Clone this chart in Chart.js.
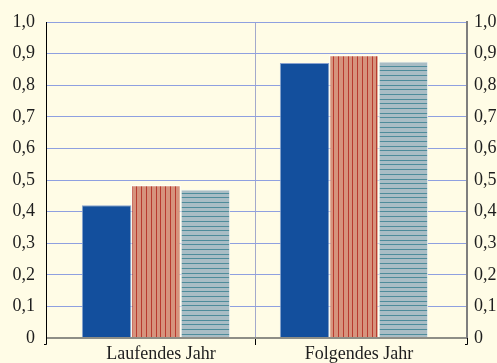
<!DOCTYPE html>
<html>
<head>
<meta charset="utf-8">
<script src="https://cdn.jsdelivr.net/npm/chart.js@4/dist/chart.umd.min.js"></script>
<style>
  html, body { margin: 0; padding: 0; background: #FFFCE6; }
  #wrap { width: 497px; height: 363px; }
</style>
</head>
<body>
<div id="wrap"><canvas id="c" width="497" height="363"></canvas></div>
<script>
// Categories and series values
const categories = ['Laufendes Jahr', 'Folgendes Jahr'];
const seriesBlue = [0.42, 0.87];
const seriesRed = [0.483, 0.895];
const seriesTeal = [0.47, 0.875];
const yTickLabels = ['0', '0,1', '0,2', '0,3', '0,4', '0,5', '0,6', '0,7', '0,8', '0,9', '1,0'];

const FONT = "'Liberation Serif', 'Times New Roman', serif";

// Vertical stripe fill (red series)
function stripePattern(ctx) {
  const c = document.createElement('canvas');
  c.width = 24; c.height = 4;
  const g = c.getContext('2d');
  g.fillStyle = '#D6937D';
  g.fillRect(0, 0, 24, 4);
  g.fillStyle = '#B83A2F';
  [2, 7, 12, 16, 21].forEach(x => g.fillRect(x, 0, 1, 4));
  return ctx.createPattern(c, 'repeat');
}

// Horizontal line fill (teal series)
function hlinePattern(ctx) {
  const c = document.createElement('canvas');
  c.width = 4; c.height = 47;
  const g = c.getContext('2d');
  g.fillStyle = '#A9BDC5';
  g.fillRect(0, 0, 4, 47);
  g.fillStyle = '#4E8C9B';
  [0, 5, 9, 14, 19, 23, 28, 33, 38, 42].forEach(y => g.fillRect(0, y, 4, 1));
  return ctx.createPattern(c, 'repeat');
}

const canvas = document.getElementById('c');
const ctx = canvas.getContext('2d');

// Paint the cream background behind everything
const background = {
  id: 'background',
  beforeDraw(chart) {
    const g = chart.ctx;
    g.save();
    g.fillStyle = '#FFFCE6';
    g.fillRect(0, 0, chart.width, chart.height);
    g.restore();
  }
};

// The category axis spans a slightly narrower band than the plot frame
const categoryBand = {
  id: 'categoryBand',
  afterLayout(chart) {
    const x = chart.scales.x;
    const area = chart.chartArea;
    x.left = area.left + 11;
    x.right = area.right - 14;
    x.width = x.right - x.left;
    x.configure();
  }
};

// Small black tick marks under the outer frame corners
const frameTicks = {
  id: 'frameTicks',
  afterDraw(chart) {
    const g = chart.ctx;
    const a = chart.chartArea;
    g.save();
    g.strokeStyle = '#000';
    g.lineWidth = 1;
    g.beginPath();
    g.moveTo(a.left + 0.5, a.bottom);
    g.lineTo(a.left + 0.5, a.bottom + 6.5);
    g.lineTo(a.left - 2, a.bottom + 6.5);
    g.moveTo(a.right + 0.5, a.bottom);
    g.lineTo(a.right + 0.5, a.bottom + 6.5);
    g.lineTo(a.right - 2, a.bottom + 6.5);
    g.stroke();
    g.restore();
  }
};

new Chart(ctx, {
  type: 'bar',
  data: {
    labels: categories,
    datasets: [
      {
        label: 'Reihe 1',
        data: seriesBlue,
        backgroundColor: '#134F9D',
        borderColor: '#8AA3CF',
        borderWidth: 1,
        yAxisID: 'y'
      },
      {
        label: 'Reihe 2',
        data: seriesRed,
        backgroundColor: stripePattern(ctx),
        borderColor: '#FFFFFF',
        borderWidth: 1,
        yAxisID: 'y'
      },
      {
        label: 'Reihe 3',
        data: seriesTeal,
        backgroundColor: hlinePattern(ctx),
        borderColor: '#F4F6F2',
        borderWidth: 1,
        yAxisID: 'y'
      }
    ]
  },
  options: {
    responsive: false,
    animation: false,
    devicePixelRatio: 1,
    layout: { padding: { top: 22, left: 0, right: 0, bottom: 0 } },
    datasets: {
      bar: { categoryPercentage: 0.749, barPercentage: 1.0 }
    },
    plugins: {
      legend: { display: false },
      tooltip: { enabled: false }
    },
    scales: {
      x: {
        type: 'category',
        offset: true,
        afterFit(scale) { scale.height = 25; },
        border: { display: false },
        grid: {
          offset: true,
          drawOnChartArea: true,
          drawTicks: true,
          tickLength: 7,
          lineWidth: 1,
          color: (c) => c.index === 1 ? '#A3A9CC' : 'rgba(0,0,0,0)',
          tickColor: (c) => c.index === 1 ? '#000000' : 'rgba(0,0,0,0)'
        },
        ticks: {
          color: '#1E1E1E',
          font: { family: FONT, size: 18 },
          padding: -2,
          labelOffset: 5,
          maxRotation: 0,
          autoSkip: false
        }
      },
      y: {
        type: 'linear',
        position: 'left',
        min: 0,
        max: 1,
        afterFit(scale) { scale.width = 46; },
        afterBuildTicks(scale) {
          scale.ticks = yTickLabels.map((_, i) => ({ value: i / 10 }));
        },
        border: { display: true, color: '#000000', width: 1 },
        grid: {
          drawTicks: false,
          color: (c) => c.index === 0 ? '#8E8E86' : '#8FA0E0',
          lineWidth: (c) => c.index === 0 ? 2 : 1
        },
        ticks: {
          color: '#1E1E1E',
          font: { family: FONT, size: 18 },
          padding: 11,
          callback: (v, i) => yTickLabels[i]
        }
      },
      y2: {
        type: 'linear',
        position: 'right',
        min: 0,
        max: 1,
        afterFit(scale) { scale.width = 30; },
        afterBuildTicks(scale) {
          scale.ticks = yTickLabels.map((_, i) => ({ value: i / 10 }));
        },
        border: { display: true, color: '#7F7F7F', width: 2 },
        grid: { display: false, drawTicks: false },
        ticks: {
          color: '#1E1E1E',
          font: { family: FONT, size: 18 },
          padding: 7,
          callback: (v, i) => yTickLabels[i]
        }
      }
    }
  },
  plugins: [background, categoryBand, frameTicks]
});
</script>
</body>
</html>
